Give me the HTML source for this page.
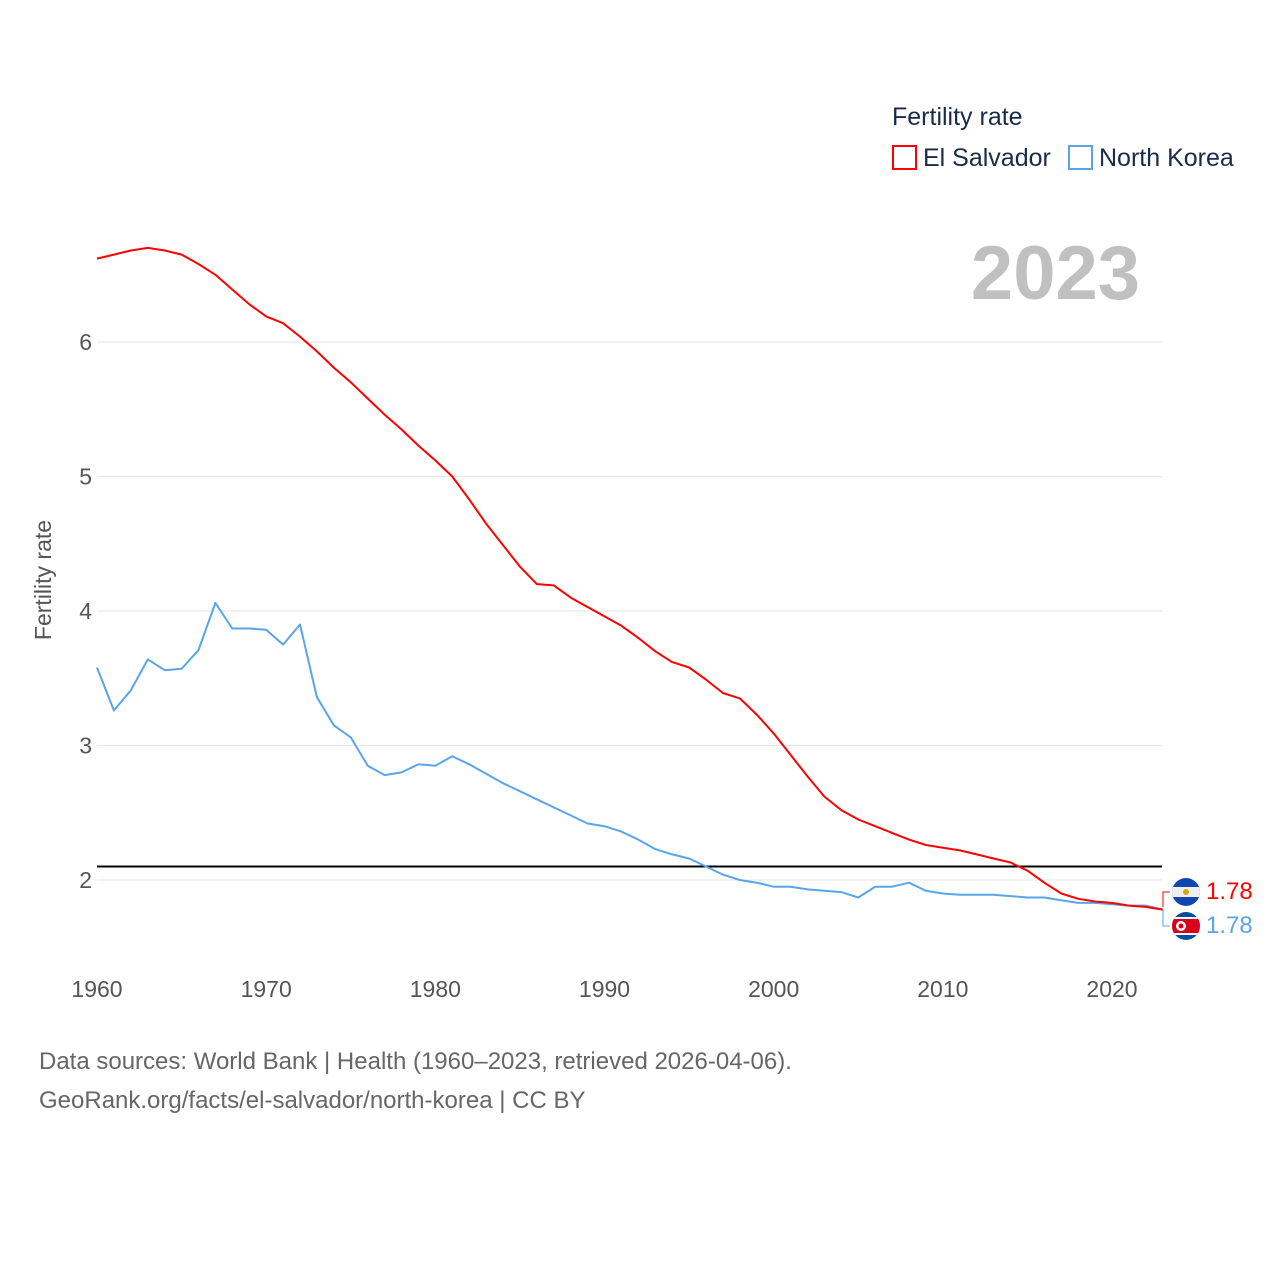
<!DOCTYPE html>
<html><head><meta charset="utf-8"><style>
body{margin:0;background:#fff;font-family:"Liberation Sans",sans-serif}
svg text{font-family:"Liberation Sans",sans-serif}
</style></head><body>
<svg id="chart" width="1280" height="1280" xmlns="http://www.w3.org/2000/svg">
<g id="grid"></g>
<g id="yticks"></g>
<g id="xticks"></g>
<text transform="translate(51,580) rotate(-90)" text-anchor="middle" font-size="23" fill="#555">Fertility rate</text>
<text x="1140" y="299" text-anchor="end" font-size="76" font-weight="bold" fill="#c0c0c0">2023</text>
<g>
<text x="892" y="125" font-size="25" fill="#1a2a4a">Fertility rate</text>
<rect x="893" y="146" width="23" height="23" fill="none" stroke="#f00" stroke-width="2"/>
<text x="923" y="166" font-size="25" fill="#1a2a4a">El Salvador</text>
<rect x="1069" y="146" width="23" height="23" fill="none" stroke="#5aa5ea" stroke-width="2"/>
<text x="1099" y="166" font-size="25" fill="#1a2a4a">North Korea</text>
</g>
<g id="series"></g>
<g>
<path d="M1163,907 V892 H1170" fill="none" stroke="#f00" stroke-width="1"/>
<path d="M1163,909 V926 H1170" fill="none" stroke="#5aa5ea" stroke-width="1"/>
<g>
<clipPath id="c1"><circle cx="1186" cy="892" r="14"/></clipPath>
<g clip-path="url(#c1)"><rect x="1172" y="878" width="28" height="28" fill="#0f47af"/><rect x="1172" y="887" width="28" height="10" fill="#eee"/><circle cx="1186" cy="892" r="3" fill="#d4a900"/></g></g>
<g>
<clipPath id="c2"><circle cx="1186" cy="926" r="14"/></clipPath>
<g clip-path="url(#c2)"><rect x="1172" y="912" width="28" height="28" fill="#024fa2"/><rect x="1172" y="917" width="28" height="18" fill="#fff"/><rect x="1172" y="919" width="28" height="14" fill="#d9001b"/><circle cx="1181" cy="926" r="5" fill="#fff"/><circle cx="1181" cy="926" r="2.5" fill="#d9001b"/></g></g>
<text x="1206" y="899" font-size="24" fill="#f00">1.78</text>
<text x="1206" y="933" font-size="24" fill="#5aa5ea">1.78</text>
</g>
<text x="39" y="1069" font-size="24" fill="#666">Data sources: World Bank | Health (1960–2023, retrieved 2026-04-06).</text>
<text x="39" y="1108" font-size="24" fill="#666">GeoRank.org/facts/el-salvador/north-korea | CC BY</text>
</svg>
<script>
const years=[];for(let y=1960;y<=2023;y++)years.push(y);
const elSalvador=[6.62,6.65,6.68,6.70,6.68,6.65,6.58,6.50,6.39,6.28,6.19,6.14,6.04,5.93,5.81,5.70,5.58,5.46,5.35,5.23,5.12,5.00,4.83,4.65,4.49,4.33,4.20,4.19,4.10,4.03,3.96,3.89,3.80,3.70,3.62,3.58,3.49,3.39,3.35,3.23,3.09,2.93,2.77,2.62,2.52,2.45,2.40,2.35,2.30,2.26,2.24,2.22,2.19,2.16,2.13,2.07,1.98,1.90,1.86,1.84,1.83,1.81,1.80,1.78];
const northKorea=[3.58,3.26,3.41,3.64,3.56,3.57,3.71,4.06,3.87,3.87,3.86,3.75,3.90,3.36,3.15,3.06,2.85,2.78,2.80,2.86,2.85,2.92,2.86,2.79,2.72,2.66,2.60,2.54,2.48,2.42,2.40,2.36,2.30,2.23,2.19,2.16,2.10,2.04,2.00,1.98,1.95,1.95,1.93,1.92,1.91,1.87,1.95,1.95,1.98,1.92,1.90,1.89,1.89,1.89,1.88,1.87,1.87,1.85,1.83,1.83,1.82,1.81,1.81,1.78];
const yTicks=[2,3,4,5,6];
const xTicks=[1960,1970,1980,1990,2000,2010,2020];
const replacement=2.1;
const NS="http://www.w3.org/2000/svg";
const X=y=>97+(y-1960)*(1112-97)/60;
const Y=v=>880-(v-2)*134.5;
function mk(t,a,p){const e=document.createElementNS(NS,t);for(const k in a)e.setAttribute(k,a[k]);p.appendChild(e);return e;}
const grid=document.getElementById('grid'),yt=document.getElementById('yticks'),xt=document.getElementById('xticks'),ser=document.getElementById('series');
yTicks.forEach(v=>{
 const l=mk('line',{x1:97,x2:1162,y1:Y(v),y2:Y(v),stroke:'#e6e6e6','stroke-width':1},grid);
 
 
 const t=mk('text',{x:92,y:Y(v)+8,'text-anchor':'end','font-size':23,fill:'#555'},yt);t.textContent=v;
 
 
});
xTicks.forEach(v=>{
 const t=mk('text',{x:X(v),y:997,'text-anchor':'middle','font-size':23,fill:'#555'},xt);t.textContent=v;
 
 
});
const r=mk('line',{x1:97,x2:1162,y1:Y(replacement),y2:Y(replacement),stroke:'#000','stroke-width':2},ser);


function line(d,c,n){const p=mk('path',{d:d.map((v,i)=>(i?'L':'M')+X(years[i]).toFixed(1)+','+Y(v).toFixed(1)).join(''),fill:'none',stroke:c,'stroke-width':2,'stroke-linejoin':'round'},ser);
 
 }
line(northKorea,'#5aa5ea','line-north-korea');
line(elSalvador,'#f00','line-el-salvador');
</script>
</body></html>
